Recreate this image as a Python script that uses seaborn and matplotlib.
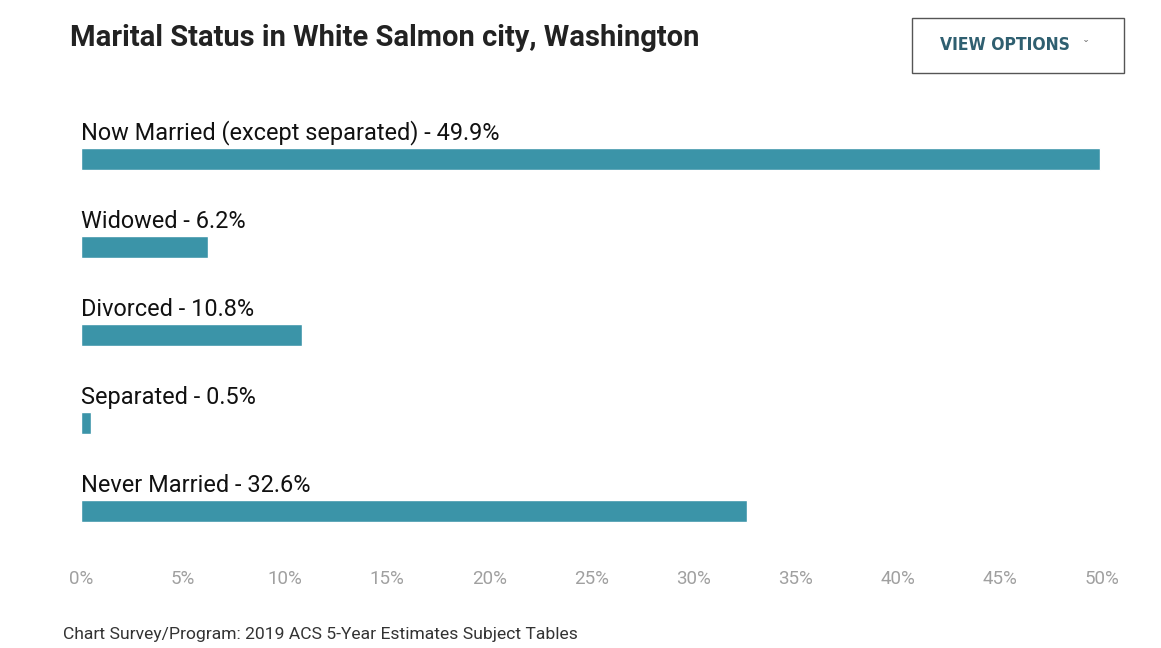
import matplotlib
matplotlib.use("Agg")
import matplotlib.pyplot as plt
import pandas as pd
import seaborn as sns
from matplotlib.patches import Rectangle

# Chart data
categories = ["Now Married (except separated)", "Widowed", "Divorced",
              "Separated", "Never Married"]
percents = [49.9, 6.2, 10.8, 0.5, 32.6]
tick_values = [0, 5, 10, 15, 20, 25, 30, 35, 40, 45, 50]

df = pd.DataFrame({"Status": categories, "Percent": percents})

sns.set_style("white")
plt.rcParams["font.family"] = ["Roboto", "DejaVu Sans"]

fig = plt.figure(figsize=(11.61, 6.48), dpi=100)
ax = fig.add_axes([0.0698, 0.1435, 0.8795, 0.679])

sns.barplot(data=df, x="Percent", y="Status", orient="h", color="#3b94a8",
            saturation=1, width=0.24, ax=ax)

ax.set_xlim(0, 50)
ax.set_ylim(4.5, -0.5)
ax.set_xticks(tick_values)
ax.set_xticklabels([f"{t}%" for t in tick_values])
ax.tick_params(axis="x", length=0, pad=11, labelsize=13.5, labelcolor="#a0a0a0")
ax.set_yticks([])
ax.set_xlabel("")
ax.set_ylabel("")
sns.despine(ax=ax, left=True, bottom=True)

# Category labels above bars
for i, (cat, val) in enumerate(zip(categories, percents)):
    ax.text(0, i - 0.22, f"{cat} - {val}%", ha="left", va="baseline",
            fontsize=16.9, color="#111111")

# Title
fig.text(0.060, 0.941, "Marital Status in White Salmon city, Washington",
         fontsize=21, fontweight="bold", color="#222222", va="center")

# View options button
btn = Rectangle((912 / 1161, 1 - 73 / 648), 212 / 1161, 55 / 648,
                transform=fig.transFigure, fill=False, edgecolor="#555555",
                linewidth=1)
fig.add_artist(btn)
fig.text(1005 / 1161, 1 - 45 / 648, "VIEW OPTIONS", fontsize=12.5,
         family="DejaVu Sans", fontstretch="condensed",
         fontweight="bold", color="#2f5f70", ha="center", va="center")
fig.text(1085 / 1161, 1 - 47 / 648, "\u02c7", fontsize=10,
         color="#777777", ha="center", va="center")

# Footer
fig.text(63 / 1161, 1 - 635 / 648,
         "Chart Survey/Program: 2019 ACS 5-Year Estimates Subject Tables",
         fontsize=12.6, color="#333333", ha="left", va="center")

fig.savefig("out.png", dpi=100, facecolor="white")
